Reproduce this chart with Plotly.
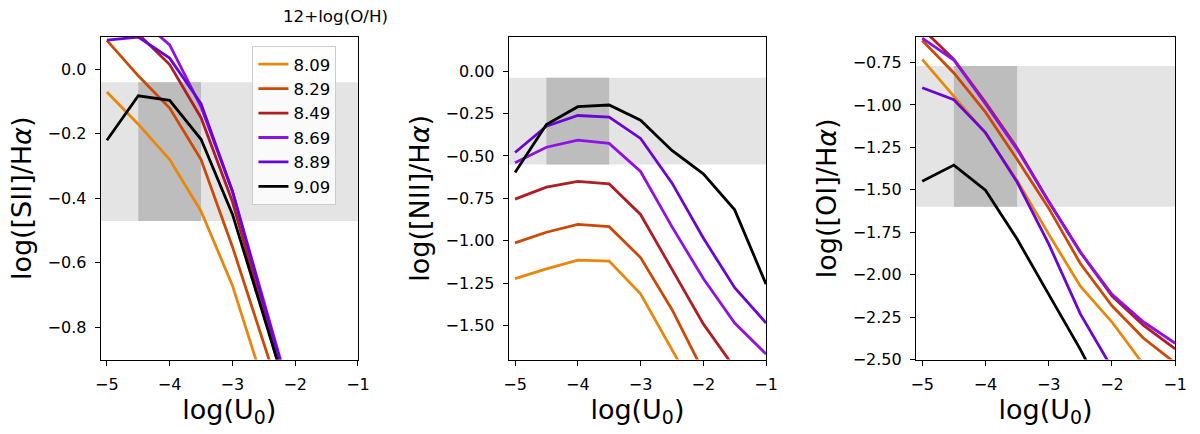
import plotly.graph_objects as go

# log(U0) grid shared by all three panels
logU = [-5.0, -4.5, -4.0, -3.5, -3.0, -2.5, -2.0, -1.5, -1.0]
metallicity = ["8.09", "8.29", "8.49", "8.69", "8.89", "9.09"]
colors = ["#e8870b", "#cc4a06", "#b01e24", "#9110e8", "#6a05d8", "#000000"]

# log([SII]/Ha)
sii_809 = [-0.07, -0.17, -0.28, -0.44, -0.67, -0.99, -1.30, -1.60, -1.90]
sii_829 = [0.09, -0.02, -0.12, -0.28, -0.55, -0.85, -1.15, -1.45, -1.75]
sii_849 = [0.20, 0.11, 0.015, -0.15, -0.41, -0.76, -1.10, -1.40, -1.70]
sii_869 = [0.20, 0.16, 0.076, -0.116, -0.378, -0.72, -1.06, -1.38, -1.68]
sii_889 = [0.091, 0.10, 0.035, -0.106, -0.378, -0.73, -1.07, -1.39, -1.69]
sii_909 = [-0.22, -0.082, -0.096, -0.217, -0.449, -0.78, -1.12, -1.42, -1.72]

# log([NII]/Ha)
nii_809 = [-1.223, -1.166, -1.114, -1.12, -1.313, -1.64, -1.97, -2.25, -2.50]
nii_829 = [-1.013, -0.95, -0.904, -0.917, -1.099, -1.405, -1.77, -2.05, -2.30]
nii_849 = [-0.755, -0.684, -0.65, -0.665, -0.845, -1.166, -1.49, -1.75, -1.98]
nii_869 = [-0.541, -0.449, -0.407, -0.426, -0.592, -0.917, -1.223, -1.485, -1.668]
nii_889 = [-0.48, -0.325, -0.262, -0.271, -0.397, -0.659, -0.984, -1.277, -1.485]
nii_909 = [-0.598, -0.315, -0.21, -0.20, -0.29, -0.468, -0.606, -0.818, -1.256]

# log([OI]/Ha)
oi_809 = [-0.731, -0.946, -1.166, -1.445, -1.761, -2.068, -2.279, -2.53, -2.75]
oi_829 = [-0.62, -0.811, -1.042, -1.32, -1.608, -1.934, -2.183, -2.375, -2.52]
oi_849 = [-0.55, -0.731, -0.984, -1.253, -1.569, -1.867, -2.126, -2.299, -2.437]
oi_869 = [-0.606, -0.735, -0.994, -1.262, -1.569, -1.867, -2.116, -2.279, -2.404]
oi_889 = [-0.898, -0.969, -1.163, -1.454, -1.819, -2.231, -2.55, -2.85, -3.10]
oi_909 = [-1.449, -1.354, -1.502, -1.79, -2.116, -2.44, -2.80, -3.10, -3.40]

panels = [
    ([sii_809, sii_829, sii_849, sii_869, sii_889, sii_909], "log([SII]/H<i>α</i>)", [-0.9, 0.1], ".1f", 0.2, (-0.47, -0.04)),
    ([nii_809, nii_829, nii_849, nii_869, nii_889, nii_909], "log([NII]/H<i>α</i>)", [-1.7, 0.2], ".2f", 0.25, (-0.55, -0.04)),
    ([oi_809, oi_829, oi_849, oi_869, oi_889, oi_909], "log([OI]/H<i>α</i>)", [-2.5, -0.6], ".2f", 0.25, (-1.6, -0.77)),
]

x_domains = [[97 / 1200, 358 / 1200], [511 / 1200, 772 / 1200], [924 / 1200, 1187 / 1200]]
y_domain = [1 - 368 / 434, 1 - 38 / 434]
font = "DejaVu Sans"

fig = go.Figure()
layout = {}
shapes = []

for i, (series, ytitle, yrange, fmt, dtick, band) in enumerate(panels):
    n = "" if i == 0 else str(i + 1)
    for j, vals in enumerate(series):
        fig.add_trace(go.Scatter(
            x=logU, y=vals, mode="lines",
            line=dict(color=colors[j], width=2.8),
            name=metallicity[j], showlegend=(i == 0),
            xaxis="x" + n, yaxis="y" + n,
        ))
    axis_common = dict(
        showline=True, linecolor="black", linewidth=1, mirror=True,
        ticks="outside", ticklen=5, tickcolor="black", showgrid=False,
        zeroline=False, ticklabelstandoff=5,
        tickfont=dict(family=font, size=16, color="black"),
    )
    layout["xaxis" + n] = dict(
        axis_common, domain=x_domains[i], anchor="y" + n, range=[-5.1, -1],
        dtick=1, tick0=-5,
        title=dict(text="log(U<sub>0</sub>)", font=dict(family=font, size=27, color="black"), standoff=6),
    )
    layout["yaxis" + n] = dict(
        axis_common, domain=y_domain, anchor="x" + n, range=yrange,
        dtick=dtick, tick0=0, tickformat=fmt,
        title=dict(text=ytitle, font=dict(family=font, size=27, color="black"), standoff=8),
    )
    # observed range: light band, darker box for the U0 interval
    shapes.append(dict(type="rect", xref="x" + n + " domain", yref="y" + n,
                       x0=0, x1=1, y0=band[0], y1=band[1],
                       fillcolor="#e4e4e4", line=dict(width=0), layer="below"))
    shapes.append(dict(type="rect", xref="x" + n, yref="y" + n,
                       x0=-4.5, x1=-3.5, y0=band[0], y1=band[1],
                       fillcolor="#bdbdbd", line=dict(width=0), layer="below"))

fig.update_layout(
    **layout,
    shapes=shapes,
    width=1200, height=434,
    margin=dict(l=0, r=0, t=0, b=0),
    plot_bgcolor="white", paper_bgcolor="white",
    legend=dict(
        x=251 / 1200, y=1 - 47 / 434, xanchor="left", yanchor="top",
        bgcolor="rgba(255,255,255,0.8)", bordercolor="#cccccc", borderwidth=1,
        font=dict(family=font, size=16.5, color="black"),
        tracegroupgap=0, itemwidth=30,
    ),
    annotations=[dict(
        text="12+log(O/H)", xref="paper", yref="paper", x=335 / 1200, y=1 - 16 / 434,
        xanchor="center", yanchor="middle",
        showarrow=False, font=dict(family=font, size=16.7, color="black"),
    )],
)

# no body margin and no scrollbars, so the 1200x434 figure fills the window exactly
page_js = (
    "document.body.style.margin = '0';"
    "document.body.style.overflow = 'hidden';"
    "document.documentElement.style.overflow = 'hidden';"
)
fig.write_html("out.html", config={"displayModeBar": False}, post_script=page_js)
